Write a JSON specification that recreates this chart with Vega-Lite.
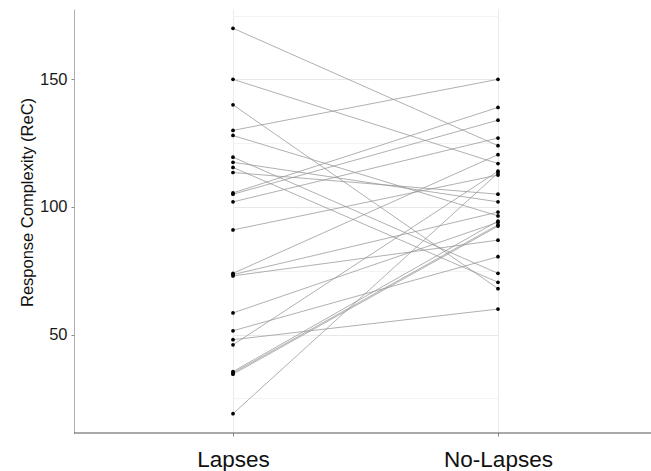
{
  "$schema": "https://vega.github.io/schema/vega-lite/v6.json",
  "width": 577,
  "height": 424,
  "autosize": {"type": "none"},
  "padding": {"left": 74, "top": 9, "right": 0, "bottom": 38},
  "background": "white",
  "config": {
    "view": {"stroke": null},
    "font": "Liberation Sans"
  },
  "data": {
    "values": [
      {"id": 1, "condition": "Lapses", "rec": 170}, {"id": 1, "condition": "No-Lapses", "rec": 124},
      {"id": 2, "condition": "Lapses", "rec": 150}, {"id": 2, "condition": "No-Lapses", "rec": 117},
      {"id": 3, "condition": "Lapses", "rec": 140}, {"id": 3, "condition": "No-Lapses", "rec": 68},
      {"id": 4, "condition": "Lapses", "rec": 130}, {"id": 4, "condition": "No-Lapses", "rec": 150},
      {"id": 5, "condition": "Lapses", "rec": 128}, {"id": 5, "condition": "No-Lapses", "rec": 96.5},
      {"id": 6, "condition": "Lapses", "rec": 119.5}, {"id": 6, "condition": "No-Lapses", "rec": 74},
      {"id": 7, "condition": "Lapses", "rec": 117.5}, {"id": 7, "condition": "No-Lapses", "rec": 102},
      {"id": 8, "condition": "Lapses", "rec": 115.5}, {"id": 8, "condition": "No-Lapses", "rec": 70.5},
      {"id": 9, "condition": "Lapses", "rec": 113.5}, {"id": 9, "condition": "No-Lapses", "rec": 105},
      {"id": 10, "condition": "Lapses", "rec": 105.5}, {"id": 10, "condition": "No-Lapses", "rec": 139},
      {"id": 11, "condition": "Lapses", "rec": 105}, {"id": 11, "condition": "No-Lapses", "rec": 134},
      {"id": 12, "condition": "Lapses", "rec": 102}, {"id": 12, "condition": "No-Lapses", "rec": 127},
      {"id": 13, "condition": "Lapses", "rec": 91}, {"id": 13, "condition": "No-Lapses", "rec": 112.5},
      {"id": 14, "condition": "Lapses", "rec": 74}, {"id": 14, "condition": "No-Lapses", "rec": 120.5},
      {"id": 15, "condition": "Lapses", "rec": 73.5}, {"id": 15, "condition": "No-Lapses", "rec": 98},
      {"id": 16, "condition": "Lapses", "rec": 73}, {"id": 16, "condition": "No-Lapses", "rec": 87},
      {"id": 17, "condition": "Lapses", "rec": 58.5}, {"id": 17, "condition": "No-Lapses", "rec": 94},
      {"id": 18, "condition": "Lapses", "rec": 51.5}, {"id": 18, "condition": "No-Lapses", "rec": 80.5},
      {"id": 19, "condition": "Lapses", "rec": 48}, {"id": 19, "condition": "No-Lapses", "rec": 60},
      {"id": 20, "condition": "Lapses", "rec": 46}, {"id": 20, "condition": "No-Lapses", "rec": 114},
      {"id": 21, "condition": "Lapses", "rec": 35.5}, {"id": 21, "condition": "No-Lapses", "rec": 94.5},
      {"id": 22, "condition": "Lapses", "rec": 35}, {"id": 22, "condition": "No-Lapses", "rec": 93},
      {"id": 23, "condition": "Lapses", "rec": 34.5}, {"id": 23, "condition": "No-Lapses", "rec": 92.5},
      {"id": 24, "condition": "Lapses", "rec": 19}, {"id": 24, "condition": "No-Lapses", "rec": 113.3}
    ]
  },
  "encoding": {
    "x": {
      "field": "condition",
      "type": "ordinal",
      "sort": ["Lapses", "No-Lapses"],
      "scale": {"type": "point", "range": [159, 424], "padding": 0},
      "axis": {
        "title": null,
        "domain": false,
        "grid": true,
        "gridColor": "#ebebeb",
        "gridWidth": 1,
        "ticks": true,
        "tickSize": 3,
        "tickColor": "#888888",
        "labelAngle": 0,
        "labelFont": "Liberation Sans",
        "labelFontSize": 22.5,
        "labelColor": "#111111",
        "labelBaseline": "alphabetic",
        "labelPadding": 30
      }
    },
    "y": {
      "field": "rec",
      "type": "quantitative",
      "scale": {"domain": [11.45, 177.55], "nice": false, "zero": false},
      "axis": {
        "title": "Response Complexity (ReC)",
        "titleFont": "Liberation Sans",
        "titleFontSize": 16.5,
        "titleFontWeight": "normal",
        "titleColor": "#111111",
        "titleAngle": -90,
        "titleAlign": "center",
        "titleBaseline": "middle",
        "titleX": -47,
        "titleY": 193,
        "values": [25, 50, 75, 100, 125, 150, 175],
        "labelExpr": "datum.value % 50 === 0 ? datum.label : ''",
        "labelFont": "Liberation Sans",
        "labelFontSize": 16.5,
        "labelColor": "#1a1a1a",
        "labelPadding": 4,
        "domain": true,
        "domainColor": "#b0b0b0",
        "domainWidth": 1,
        "ticks": true,
        "tickSize": 3,
        "tickColor": "#888888",
        "tickOpacity": {"condition": {"test": "datum.value % 50 === 0", "value": 1}, "value": 0},
        "grid": true,
        "gridColor": {"condition": {"test": "datum.value % 50 === 0", "value": "#e8e8e8"}, "value": "#f3f3f3"},
        "gridWidth": 1
      }
    }
  },
  "layer": [
    {
      "mark": {"type": "line", "color": "#959595", "strokeWidth": 0.75},
      "encoding": {"detail": {"field": "id", "type": "nominal"}}
    },
    {
      "mark": {"type": "circle", "color": "#000000", "opacity": 1, "size": 14},
      "encoding": {}
    },
    {
      "data": {"values": [{"base": 11.45}]},
      "mark": {"type": "rule", "color": "#555555", "strokeWidth": 1},
      "encoding": {"y": {"field": "base", "type": "quantitative"}, "x": null}
    }
  ]
}
